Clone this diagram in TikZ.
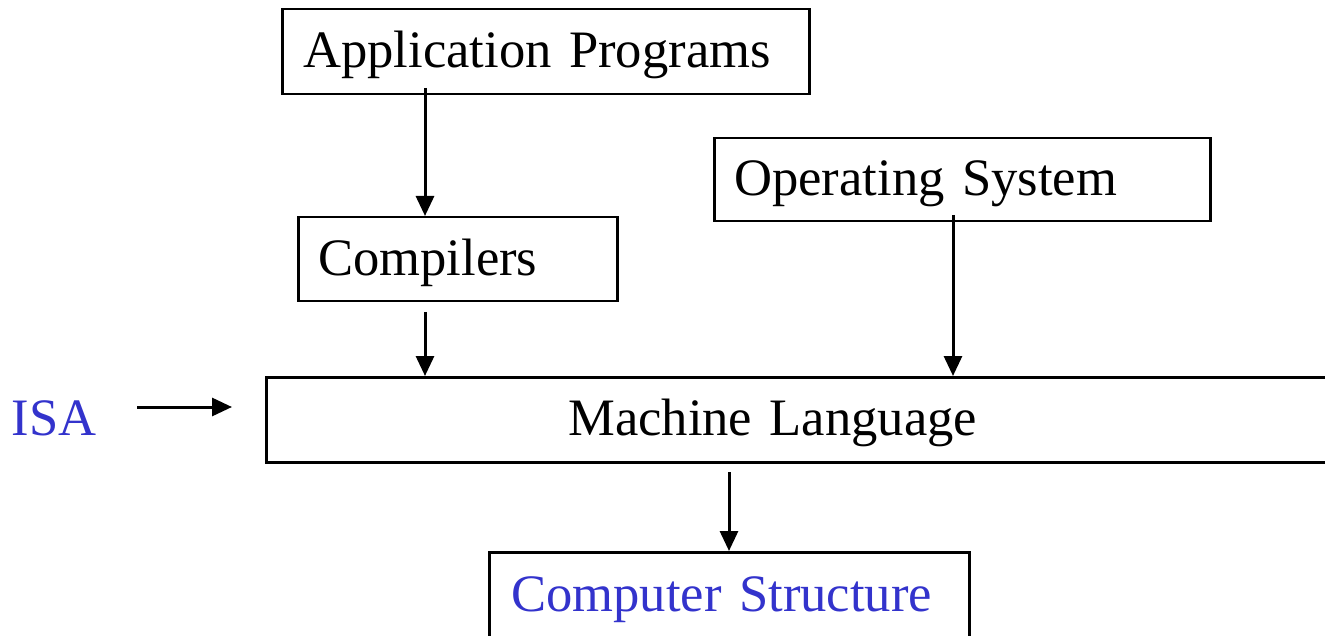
\documentclass[tikz,border=0pt]{standalone}
\usepackage{fontspec}
\setmainfont{Liberation Serif}
\usetikzlibrary{arrows.meta}
\definecolor{isablue}{RGB}{51,51,204}

\begin{document}
\begin{tikzpicture}[%
  x=1pt, y=-1pt,
  every node/.style={font=\fontsize{52.6}{60}\selectfont},
  layer/.style={draw, line width=2.5pt, anchor=north west, align=left, inner ysep=0pt,
    text height=44pt, text depth=12pt},
  arr/.style={line width=3pt, -{Triangle[length=20pt,width=18pt]}}]
\useasboundingbox (0,0) rectangle (1325,636);
\clip (0,0) rectangle (1325,636);
% boxes
\node[layer, minimum height=85pt, inner xsep=21pt, text width=485pt] (app) at (281,8) {Application Programs};
\node[layer, minimum height=84pt, inner xsep=20pt, text width=279pt] (comp) at (297,216) {Compilers};
\node[layer, minimum height=83pt, inner xsep=20pt, text width=456pt] (os) at (713,137) {Operating System};
\node[layer, minimum height=85pt, inner xsep=302pt, text width=496pt] (ml) at (265,376) {Machine Language};
\node[layer, minimum height=86pt, inner xsep=22pt, text width=436pt, text=isablue] (cs) at (488,551) {Computer Structure};
\node[text=isablue] (isa) at (54,418) {ISA};
% arrows
\coordinate (a1) at (425,88);
\coordinate (a2) at (425,312);
\coordinate (a3) at (953,215);
\coordinate (a4) at (729,472);
\coordinate (a5) at (137,407);
\coordinate (a6) at (232,407);
\draw[arr] (a1) -- (a1 |- comp.north);
\draw[arr] (a2) -- (a2 |- ml.north);
\draw[arr] (a3) -- (a3 |- ml.north);
\draw[arr] (a4) -- (a4 |- cs.north);
\draw[arr] (a5) -- (a6);
\end{tikzpicture}
\end{document}
